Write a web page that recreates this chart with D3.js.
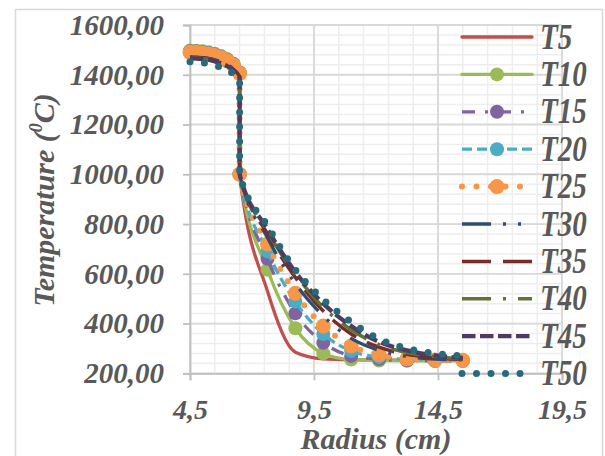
<!DOCTYPE html>
<html>
<head>
<meta charset="utf-8">
<script src="https://cdn.jsdelivr.net/npm/d3@7"></script>
<style>
  html, body { margin: 0; padding: 0; background: #fff; }
</style>
</head>
<body>
<svg id="chart" width="605" height="456"></svg>
<script>
// ---- data ----
const radius = [4.5, 4.75, 5.0, 5.25, 5.5, 5.75, 6.0, 6.25, 6.5, 6.5, 7.625, 8.75, 9.875, 11, 12.125, 13.25, 14.375, 15.5];
const T5  = [1490,1489,1487,1483,1477,1468,1456,1438,1405,1000,530,285,258,254,253,253,253,253];
const T10 = [1497,1496,1494,1490,1484,1475,1463,1444,1410,1000,616,381,280,255,251,250,250,250];
const T15 = [1494,1493,1491,1487,1481,1472,1460,1442,1408,1000,660,441,323,270,257,252,250,250];
const T20 = [1492,1491,1489,1485,1479,1470,1458,1440,1406,1000,690,488,358,290,265,256,252,251];
const T25 = [1490,1489,1487,1483,1477,1468,1456,1438,1405,1000,720,522,390,310,275,258,253,252];
const T30 = [1472,1471,1469,1466,1460,1452,1441,1424,1395,1000,745,560,430,340,292,268,257,254];
const T35 = [1470,1469,1467,1464,1458,1450,1439,1422,1393,1000,760,585,450,358,305,276,262,256];
const T40 = [1468,1467,1465,1462,1456,1448,1437,1420,1391,1000,770,598,465,375,315,283,267,258];
const T45 = [1466,1465,1463,1460,1454,1446,1435,1418,1389,1000,780,607,480,390,326,292,272,262];
const T50 = [1452,1451,1448,1444,1438,1430,1419,1404,1380,1000,793,616,497,406,338,300,280,270];
const seriesNames = ["T5","T10","T15","T20","T25","T30","T35","T40","T45","T50"];
const seriesValues = [T5,T10,T15,T20,T25,T30,T35,T40,T45,T50];
const xTicks = [4.5, 9.5, 14.5, 19.5];
const yTicks = [200, 400, 600, 800, 1000, 1200, 1400, 1600];
const xTitle = "Radius (cm)";
const yTitle = ["Temperature (", "0", "C)"];

// ---- styles ----
const FONT = "'Liberation Serif', 'Times New Roman', serif";
const styles = [
  {color:"#C0504D", width:3.3, dash:null, cap:"round", marker:0},
  {color:"#9BBB59", width:3.3, dash:null, cap:"round", marker:7},
  {color:"#8064A2", width:3.3, dash:"13,10,3,10", cap:"butt", marker:7},
  {color:"#4BACC6", width:3.3, dash:"10,5", cap:"butt", marker:7},
  {color:"#F79646", width:6, dash:"0,14.5", cap:"round", marker:7.5},
  {color:"#2C4D75", width:3.3, dash:"29,12,3,12,3,12", cap:"butt", marker:0},
  {color:"#772C2A", width:3.5, dash:"29,12", cap:"butt", marker:0},
  {color:"#5F7530", width:3.5, dash:"29,12,3,12", cap:"butt", marker:0},
  {color:"#4D3B62", width:4.3, dash:"13.5,4.5", cap:"butt", marker:0},
  {color:"#276A7C", width:7, dash:"0,14.5", cap:"round", marker:0}
];

const svg = d3.select("#chart");
const x = d3.scaleLinear().domain([4.5, 19.5]).range([190, 562]);
const y = d3.scaleLinear().domain([200, 1600]).range([373.3, 25]);
const loc = d3.formatLocale({decimal: ",", thousands: "", grouping: [3], currency: ["", ""]});

function styleText(sel, size) {
  sel.attr("font-family", FONT).attr("font-weight", "bold").attr("font-style", "italic")
     .attr("fill", "#595959").attr("font-size", size);
}

// outer border
svg.append("rect").attr("x", 15.5).attr("y", 9.5).attr("width", 587).attr("height", 460)
  .attr("fill", "none").attr("stroke", "#d9d9d9").attr("stroke-width", 1.5);

// grid
const g = svg.append("g");
const minorX = d3.range(4.5, 19.51, 1);
const minorY = d3.range(200, 1600.1, 40);
g.selectAll(".mx").data(minorX).join("line")
  .attr("x1", d => x(d)).attr("x2", d => x(d)).attr("y1", y(200)).attr("y2", y(1600))
  .attr("stroke", "#eeeeee").attr("stroke-width", 1.5);
g.selectAll(".my").data(minorY).join("line")
  .attr("x1", x(4.5)).attr("x2", x(19.5)).attr("y1", d => y(d)).attr("y2", d => y(d))
  .attr("stroke", "#eeeeee").attr("stroke-width", 1.5);
g.selectAll(".Mx").data(xTicks).join("line")
  .attr("x1", d => x(d)).attr("x2", d => x(d)).attr("y1", y(200)).attr("y2", y(1600))
  .attr("stroke", "#d9d9d9").attr("stroke-width", 1.8);
g.selectAll(".My").data(yTicks).join("line")
  .attr("x1", x(4.5)).attr("x2", x(19.5)).attr("y1", d => y(d)).attr("y2", d => y(d))
  .attr("stroke", "#d9d9d9").attr("stroke-width", 1.8);

// axes
const yAxis = svg.append("g").attr("transform", `translate(${x(4.5)},0)`)
  .call(d3.axisLeft(y).tickValues(yTicks).tickSize(7).tickPadding(19).tickFormat(loc.format(".2f")));
const xAxis = svg.append("g").attr("transform", `translate(0,${y(200)})`)
  .call(d3.axisBottom(x).tickValues(xTicks).tickSize(7).tickPadding(19).tickFormat(loc.format(".1f")));
[yAxis, xAxis].forEach(a => {
  a.attr("font-family", null).attr("font-size", null);
  a.select(".domain").attr("stroke", "#bfbfbf").attr("stroke-width", 1.8);
  a.selectAll(".tick line").attr("stroke", "#bfbfbf").attr("stroke-width", 1.8);
});
styleText(yAxis.selectAll(".tick text"), 29);
styleText(xAxis.selectAll(".tick text"), 28);

// titles
styleText(svg.append("text").attr("x", 376).attr("y", 449).attr("text-anchor", "middle").text(xTitle), 30);
const yt = svg.append("text").attr("transform", "translate(54,200) rotate(-90)")
  .attr("text-anchor", "middle");
styleText(yt, 30);
yt.append("tspan").text(yTitle[0]);
yt.append("tspan").attr("font-size", 18).attr("dy", -12).text(yTitle[1]);
yt.append("tspan").attr("dy", 12).text(yTitle[2]);

// series
const line = d3.line().x(d => x(d[0])).y(d => y(d[1])).curve(d3.curveMonotoneX);
const plot = svg.append("g");
seriesValues.forEach((vals, i) => {
  const s = styles[i];
  const pts = radius.map((r, j) => [r, vals[j]]);
  plot.append("path").attr("d", line(pts)).attr("fill", "none")
    .attr("stroke", s.color).attr("stroke-width", s.width)
    .attr("stroke-dasharray", s.dash).attr("stroke-linecap", s.cap).attr("stroke-linejoin", "round");
  if (s.marker) {
    plot.append("g").selectAll("circle").data(pts).join("circle")
      .attr("cx", d => x(d[0])).attr("cy", d => y(d[1])).attr("r", s.marker)
      .attr("fill", s.color);
  }
});

// legend
const leg = svg.append("g");
seriesNames.forEach((name, i) => {
  const s = styles[i];
  const yy = 37 + i * 37.4;
  leg.append("line").attr("x1", 462).attr("x2", 532).attr("y1", yy).attr("y2", yy)
    .attr("stroke", s.color).attr("stroke-width", s.width)
    .attr("stroke-dasharray", s.dash).attr("stroke-linecap", s.cap);
  if (s.marker) leg.append("circle").attr("cx", 497).attr("cy", yy).attr("r", s.marker).attr("fill", s.color);
  styleText(leg.append("text").attr("transform", `translate(540,${yy + 11.5}) scale(1,1.2)`).text(name), 29);
});
</script>
</body>
</html>
